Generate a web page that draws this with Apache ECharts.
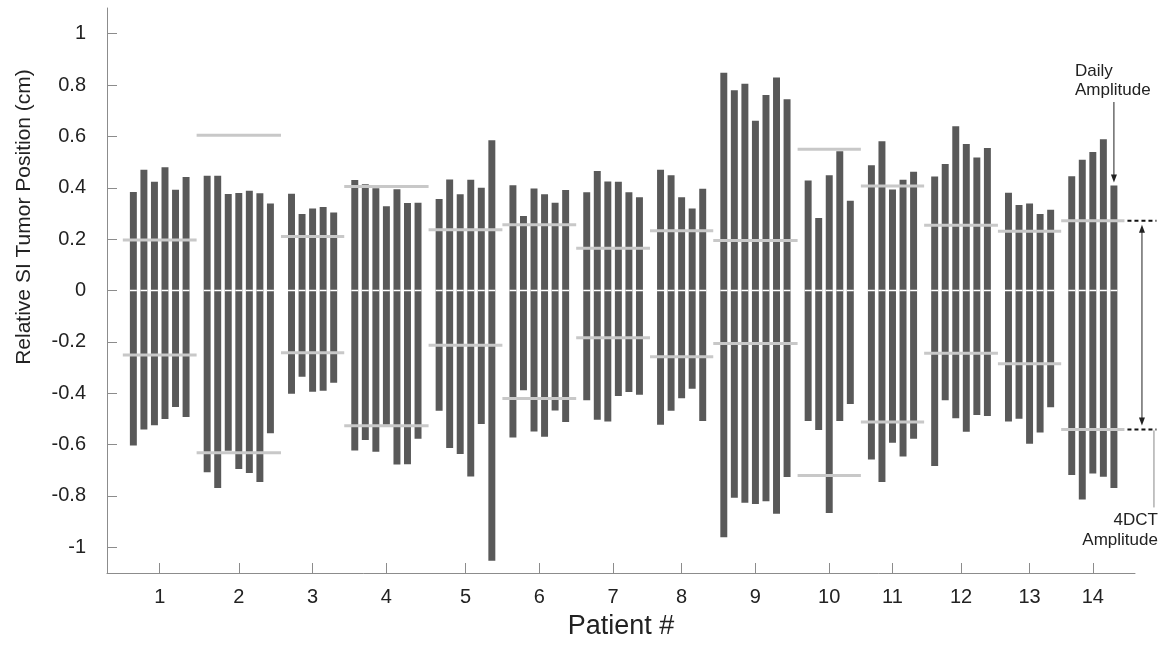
<!DOCTYPE html>
<html>
<head>
<meta charset="utf-8">
<script src="https://cdn.jsdelivr.net/npm/echarts@6/dist/echarts.min.js"></script>
<style>
  html, body { margin: 0; padding: 0; background: #fff; }
  #chart { width: 1171px; height: 645px; }
</style>
</head>
<body>
<div id="chart"></div>
<script>
// patient labels
const patients = ['1', '2', '3', '4', '5', '6', '7', '8', '9', '10', '11', '12', '13', '14'];

// daily amplitude per treatment session (top / bottom of each bar, cm)
const dailyMax = [
  [0.384, 0.470, 0.423, 0.480, 0.392, 0.442],
  [0.447, 0.447, 0.376, 0.380, 0.388, 0.379, 0.339],
  [0.377, 0.298, 0.319, 0.325, 0.304],
  [0.430, 0.414, 0.398, 0.328, 0.394, 0.341, 0.342],
  [0.356, 0.432, 0.375, 0.431, 0.400, 0.585],
  [0.410, 0.290, 0.397, 0.375, 0.342, 0.391],
  [0.383, 0.465, 0.424, 0.423, 0.383, 0.363],
  [0.470, 0.449, 0.363, 0.319, 0.396],
  [0.848, 0.780, 0.805, 0.661, 0.761, 0.829, 0.745],
  [0.428, 0.282, 0.449, 0.542, 0.349],
  [0.488, 0.581, 0.393, 0.431, 0.462],
  [0.444, 0.493, 0.640, 0.570, 0.518, 0.555],
  [0.381, 0.333, 0.339, 0.298, 0.314],
  [0.445, 0.509, 0.539, 0.589, 0.409]
];
const dailyMin = [
  [-0.604, -0.541, -0.525, -0.500, -0.454, -0.493],
  [-0.708, -0.769, -0.624, -0.695, -0.711, -0.746, -0.556],
  [-0.402, -0.336, -0.394, -0.390, -0.359],
  [-0.623, -0.582, -0.628, -0.523, -0.678, -0.677, -0.577],
  [-0.468, -0.613, -0.637, -0.724, -0.520, -1.052],
  [-0.572, -0.388, -0.549, -0.569, -0.467, -0.512],
  [-0.427, -0.503, -0.510, -0.411, -0.395, -0.406],
  [-0.523, -0.468, -0.420, -0.383, -0.508],
  [-0.961, -0.807, -0.826, -0.831, -0.821, -0.869, -0.726],
  [-0.508, -0.543, -0.866, -0.508, -0.442],
  [-0.658, -0.746, -0.593, -0.646, -0.577],
  [-0.683, -0.427, -0.497, -0.550, -0.485, -0.489],
  [-0.510, -0.499, -0.597, -0.553, -0.455],
  [-0.718, -0.814, -0.713, -0.725, -0.769]
];

// 4DCT amplitude per patient
const ctTop = [0.197, 0.605, 0.210, 0.405, 0.237, 0.256, 0.165, 0.233, 0.195, 0.550, 0.407, 0.254, 0.231, 0.272];
const ctBottom = [-0.251, -0.632, -0.242, -0.527, -0.213, -0.421, -0.184, -0.258, -0.206, -0.720, -0.512, -0.244, -0.285, -0.541];

const yTicks = [-1, -0.8, -0.6, -0.4, -0.2, 0, 0.2, 0.4, 0.6, 0.8, 1];

const FONT = 'Arial, "Liberation Sans", Helvetica, sans-serif';
const BAR = '#595959';
const CT = '#c8c8c8';

// lay sessions out on one slot axis, one empty slot between patients
const barData = [];
const ctData = [];
const centers = [];
let slot = 0;
dailyMax.forEach((tops, p) => {
  const start = slot;
  tops.forEach((top, j) => {
    barData.push([slot, dailyMin[p][j], top]);
    slot++;
  });
  const end = slot - 1;
  centers.push((start + end) / 2);
  ctData.push([start - 1, end + 1, ctTop[p], ctBottom[p]]);
  slot++;
});

const chart = echarts.init(document.getElementById('chart'));

const option = {
  animation: false,
  grid: { left: 107, right: 36, top: 8, bottom: 72 },
  xAxis: {
    type: 'value',
    min: -2.5,
    max: 95,
    splitLine: { show: false },
    axisLine: { onZero: false, lineStyle: { color: '#8c8c8c', width: 1 } },
    axisTick: { inside: true, length: 10, customValues: centers, lineStyle: { color: '#8c8c8c' } },
    axisLabel: {
      customValues: centers,
      margin: 14,
      fontFamily: FONT,
      fontSize: 20,
      color: '#222',
      formatter: v => {
        const i = centers.findIndex(c => Math.abs(c - v) < 1e-6);
        return i >= 0 ? patients[i] : '';
      }
    },
    name: 'Patient #',
    nameLocation: 'middle',
    nameGap: 40,
    nameTextStyle: { fontFamily: FONT, fontSize: 27, color: '#222' }
  },
  yAxis: {
    type: 'value',
    min: -1.1,
    max: 1.1,
    splitLine: { show: false },
    axisLine: { show: true, onZero: false, lineStyle: { color: '#8c8c8c', width: 1 } },
    axisTick: { show: true, inside: true, length: 10, customValues: yTicks, lineStyle: { color: '#8c8c8c' } },
    axisLabel: {
      customValues: yTicks,
      margin: 21,
      fontFamily: FONT,
      fontSize: 20,
      color: '#222',
      formatter: v => String(Math.round(v * 10) / 10)
    }
  },
  series: [
    {
      // daily amplitude bars, white line at zero
      type: 'custom',
      z: 2,
      data: barData,
      renderItem: (params, api) => {
        const x = api.value(0);
        const lo = api.coord([x, api.value(1)]);
        const hi = api.coord([x, api.value(2)]);
        const zero = api.coord([x, 0]);
        const w = api.size([0.66, 0])[0];
        return {
          type: 'group',
          children: [
            {
              type: 'rect',
              shape: { x: lo[0] - w / 2, y: hi[1], width: w, height: lo[1] - hi[1] },
              style: { fill: BAR }
            },
            {
              type: 'line',
              shape: { x1: lo[0] - w / 2, y1: zero[1], x2: lo[0] + w / 2, y2: zero[1] },
              style: { stroke: '#fff', lineWidth: 1.5 }
            }
          ]
        };
      }
    },
    {
      // 4DCT amplitude lines
      type: 'custom',
      z: 3,
      data: ctData,
      renderItem: (params, api) => {
        const a = api.coord([api.value(0), api.value(2)]);
        const b = api.coord([api.value(1), api.value(2)]);
        const c = api.coord([api.value(0), api.value(3)]);
        const d = api.coord([api.value(1), api.value(3)]);
        return {
          type: 'group',
          children: [
            { type: 'line', shape: { x1: a[0], y1: a[1], x2: b[0], y2: b[1] }, style: { stroke: CT, lineWidth: 3 } },
            { type: 'line', shape: { x1: c[0], y1: c[1], x2: d[0], y2: d[1] }, style: { stroke: CT, lineWidth: 3 } }
          ]
        };
      }
    }
  ]
};

chart.setOption(option);

// annotations placed from the last patient's values
const last = dailyMax.length - 1;
const lastCt = ctData[last];
const lastTop = barData[barData.length - 1];
const topPt = chart.convertToPixel({ gridIndex: 0 }, [lastCt[1], lastCt[2]]);
const botPt = chart.convertToPixel({ gridIndex: 0 }, [lastCt[1], lastCt[3]]);
const barPt = chart.convertToPixel({ gridIndex: 0 }, [lastTop[0], lastTop[2]]);

function head(x, y, dir) {
  // small triangle arrow head, dir 1 = pointing down, -1 = up
  return {
    type: 'polygon',
    shape: { points: [[x, y], [x - 3, y - 8 * dir], [x + 3, y - 8 * dir]] },
    style: { fill: '#222' }
  };
}

const ax = topPt[0] + 17.5;
const leadX = topPt[0] + 29.5;
const textStyle = { fontFamily: FONT, fontSize: 17, fill: '#222' };

chart.setOption({
  graphic: [
    {
      type: 'text', rotation: Math.PI / 2, x: 24, y: 217,
      style: { text: 'Relative SI Tumor Position (cm)', fontFamily: FONT, fontSize: 21, fill: '#222', align: 'center', verticalAlign: 'middle' }
    },
    { type: 'text', x: 1075, y: 71, style: Object.assign({ text: 'Daily', verticalAlign: 'middle' }, textStyle) },
    { type: 'text', x: 1075, y: 90, style: Object.assign({ text: 'Amplitude', verticalAlign: 'middle' }, textStyle) },
    { type: 'line', shape: { x1: barPt[0], y1: 102, x2: barPt[0], y2: barPt[1] - 6 }, style: { stroke: '#222', lineWidth: 1 } },
    head(barPt[0], barPt[1] - 3, 1),
    { type: 'line', shape: { x1: topPt[0] + 3, y1: topPt[1], x2: topPt[0] + 32, y2: topPt[1] }, style: { stroke: '#111', lineWidth: 2, lineDash: [4, 3] } },
    { type: 'line', shape: { x1: botPt[0] + 3, y1: botPt[1], x2: botPt[0] + 32, y2: botPt[1] }, style: { stroke: '#111', lineWidth: 2, lineDash: [4, 3] } },
    { type: 'line', shape: { x1: ax, y1: topPt[1] + 8, x2: ax, y2: botPt[1] - 8 }, style: { stroke: '#222', lineWidth: 1 } },
    head(ax, topPt[1] + 4, -1),
    head(ax, botPt[1] - 4, 1),
    { type: 'line', shape: { x1: leadX, y1: botPt[1] + 1, x2: leadX, y2: botPt[1] + 78 }, style: { stroke: '#888', lineWidth: 1 } },
    { type: 'text', x: leadX + 4, y: 520, style: Object.assign({ text: '4DCT', align: 'right', verticalAlign: 'middle' }, textStyle) },
    { type: 'text', x: leadX + 4, y: 540, style: Object.assign({ text: 'Amplitude', align: 'right', verticalAlign: 'middle' }, textStyle) }
  ]
});

window.addEventListener('resize', chart.resize);
</script>
</body>
</html>
